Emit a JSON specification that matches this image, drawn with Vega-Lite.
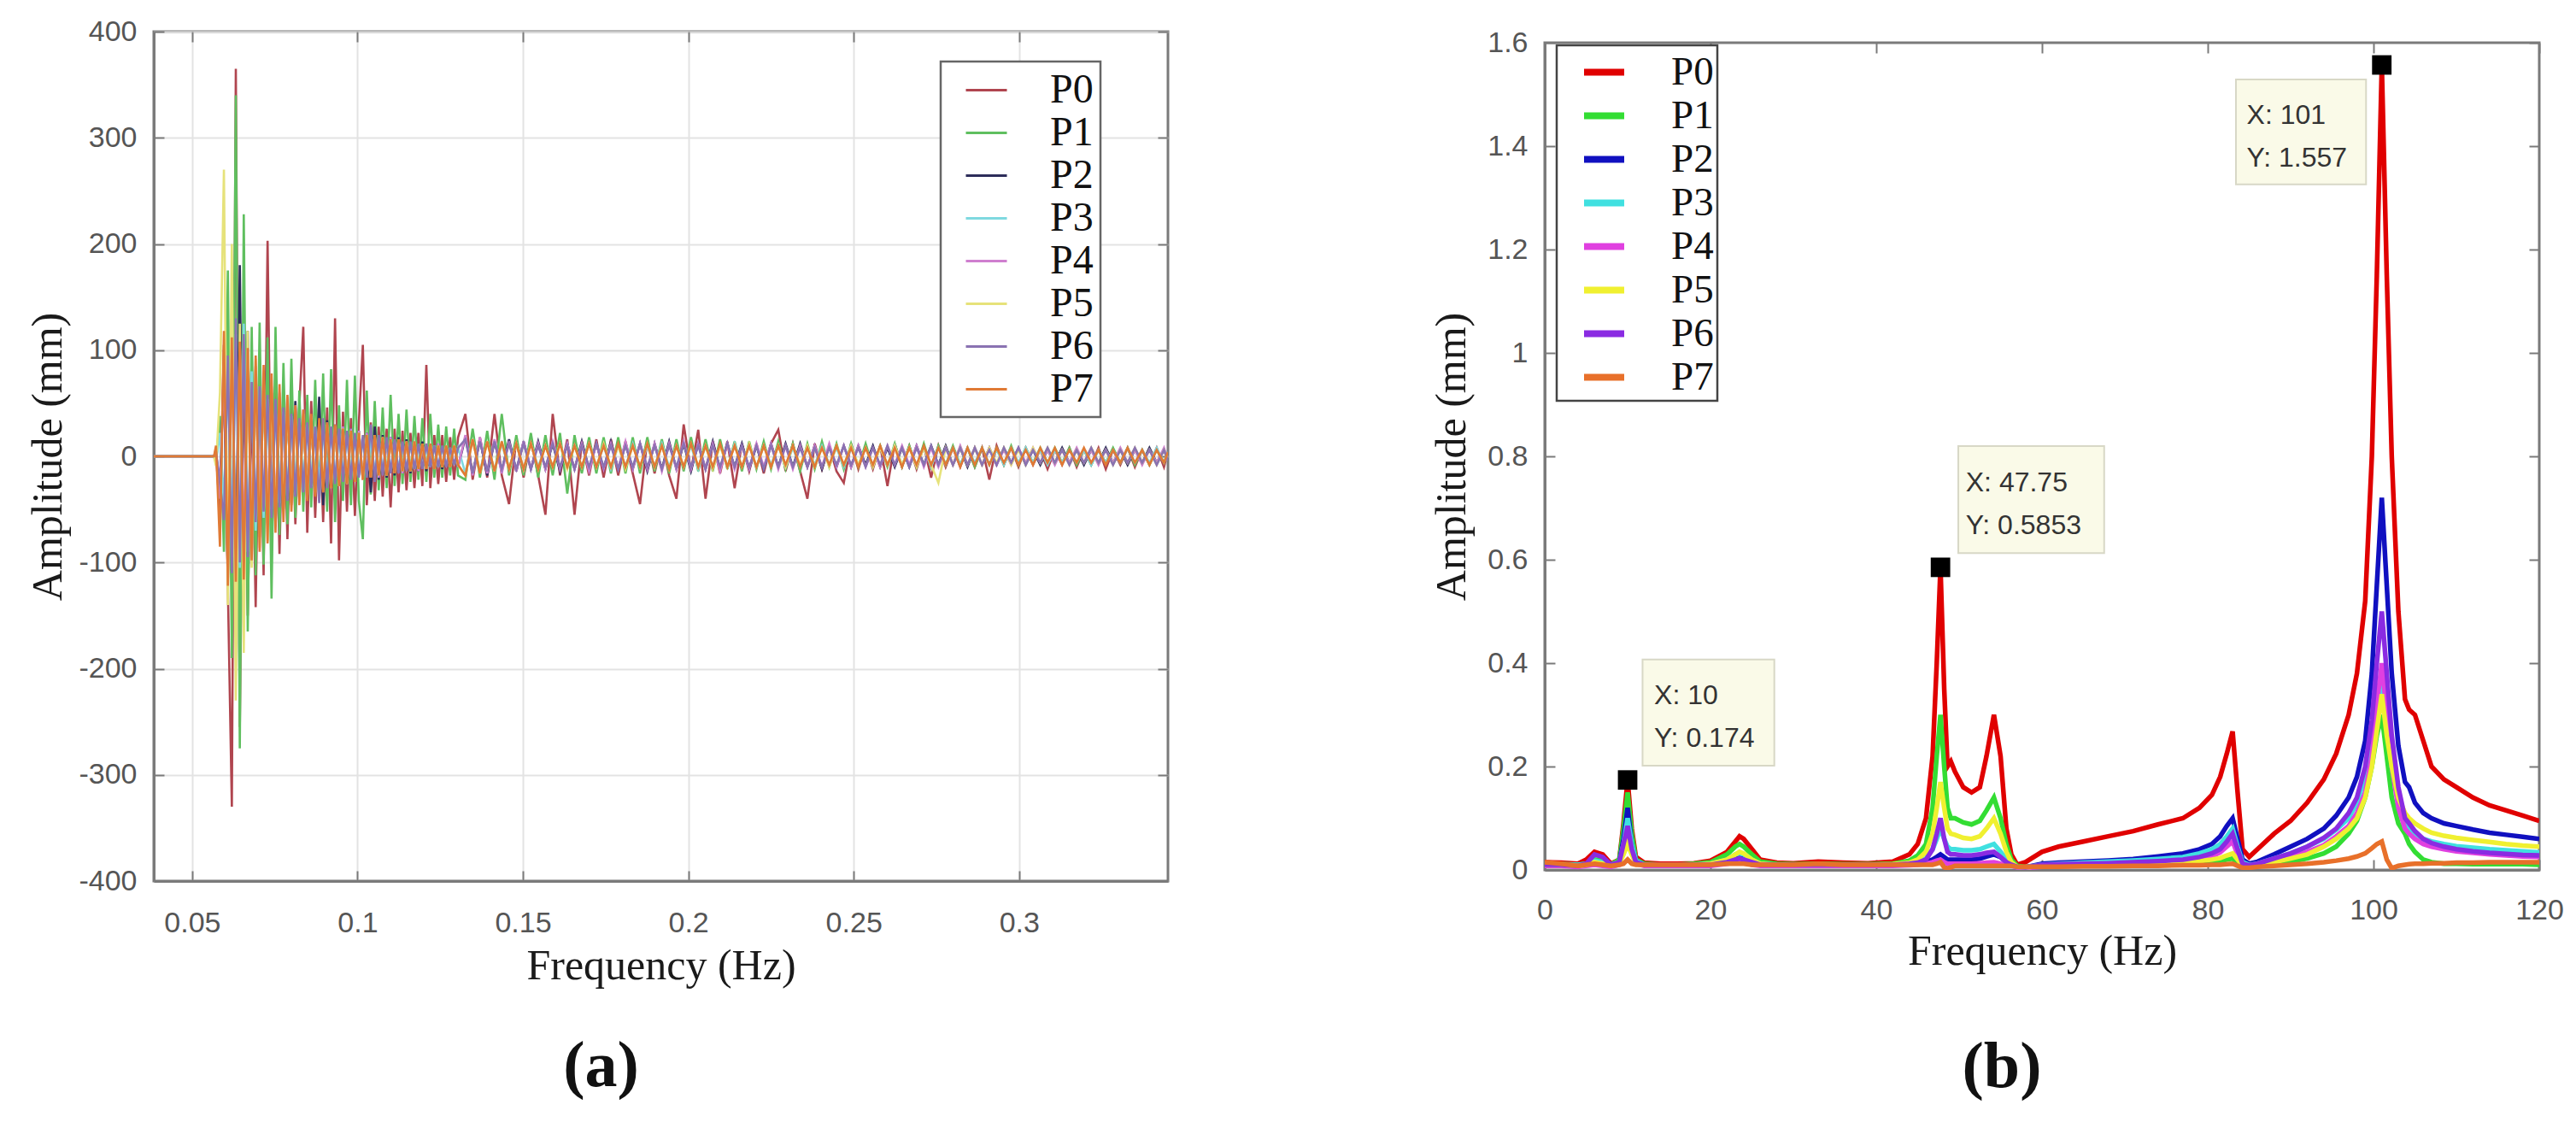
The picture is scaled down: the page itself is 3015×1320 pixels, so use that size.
{
  "$schema": "https://vega.github.io/schema/vega-lite/v6.json",
  "background": "white",
  "padding": {"left": 30, "top": 18, "right": 10, "bottom": 10},
  "config": {
    "view": {"stroke": "#7a7a7a", "strokeWidth": 3},
    "axis": {
      "labelFont": "Liberation Sans", "labelFontSize": 34, "labelColor": "#555555",
      "titleFont": "Liberation Serif", "titleFontSize": 50, "titleFontWeight": "normal", "titleColor": "#1a1a1a",
      "domainColor": "#7a7a7a", "domainWidth": 3, "tickColor": "#7a7a7a", "tickWidth": 2, "tickSize": -12,
      "gridColor": "#e3e3e3", "gridWidth": 2, "labelFlush": false, "labelOverlap": false
    },
    "legend": {"strokeWidth": 2.5},
    "title": {"font": "Liberation Serif", "fontSize": 76, "fontWeight": "bold", "color": "#111111", "anchor": "middle"}
  },
  "datasets": {
    "left": [
      {"t":0.0384,"P0":0,"P1":0,"P2":0,"P3":0,"P4":0,"P5":0,"P6":0,"P7":0},
      {"t":0.0566,"P0":0,"P1":0,"P2":0,"P3":0,"P4":0,"P5":0,"P6":0,"P7":0},
      {"t":0.0572,"P0":4,"P1":-6,"P2":3,"P3":-5,"P4":7,"P5":-9,"P6":5,"P7":10},
      {"t":0.0584,"P0":-55,"P1":38,"P2":-28,"P3":22,"P4":-40,"P5":60,"P6":-25,"P7":-85},
      {"t":0.0596,"P0":105,"P1":-90,"P2":75,"P3":-45,"P4":85,"P5":270,"P6":-60,"P7":118},
      {"t":0.0608,"P0":-125,"P1":175,"P2":-115,"P3":80,"P4":-100,"P5":-140,"P6":95,"P7":-122},
      {"t":0.0620,"P0":-330,"P1":-190,"P2":135,"P3":-95,"P4":125,"P5":200,"P6":-110,"P7":112},
      {"t":0.0632,"P0":365,"P1":340,"P2":-120,"P3":115,"P4":-140,"P5":-230,"P6":130,"P7":-118},
      {"t":0.0644,"P0":-255,"P1":-275,"P2":180,"P3":-105,"P4":105,"P5":125,"P6":-100,"P7":108},
      {"t":0.0656,"P0":95,"P1":228,"P2":-140,"P3":125,"P4":-90,"P5":-185,"P6":115,"P7":-116},
      {"t":0.0668,"P0":-150,"P1":-165,"P2":118,"P3":-90,"P4":100,"P5":118,"P6":-95,"P7":102},
      {"t":0.0680,"P0":62,"P1":122,"P2":-95,"P3":80,"P4":-75,"P5":-105,"P6":70,"P7":-98},
      {"t":0.0692,"P0":-142,"P1":-112,"P2":85,"P3":-70,"P4":82,"P5":92,"P6":-62,"P7":95},
      {"t":0.0704,"P0":84,"P1":126,"P2":-76,"P3":66,"P4":-64,"P5":-86,"P6":66,"P7":-90},
      {"t":0.0716,"P0":-112,"P1":-102,"P2":72,"P3":-58,"P4":74,"P5":78,"P6":-52,"P7":86},
      {"t":0.0728,"P0":203,"P1":112,"P2":-64,"P3":54,"P4":-60,"P5":-80,"P6":58,"P7":-82},
      {"t":0.0740,"P0":-84,"P1":-134,"P2":60,"P3":-50,"P4":66,"P5":64,"P6":-58,"P7":78},
      {"t":0.0752,"P0":72,"P1":122,"P2":-66,"P3":46,"P4":-54,"P5":-60,"P6":54,"P7":-72},
      {"t":0.0764,"P0":-92,"P1":-74,"P2":56,"P3":-44,"P4":60,"P5":58,"P6":-48,"P7":68},
      {"t":0.0776,"P0":64,"P1":88,"P2":-50,"P3":42,"P4":-50,"P5":-52,"P6":46,"P7":-62},
      {"t":0.0788,"P0":-78,"P1":-64,"P2":46,"P3":-40,"P4":56,"P5":48,"P6":-42,"P7":58},
      {"t":0.0800,"P0":58,"P1":92,"P2":-44,"P3":38,"P4":-46,"P5":-46,"P6":40,"P7":-52},
      {"t":0.0812,"P0":-64,"P1":-58,"P2":52,"P3":-36,"P4":48,"P5":44,"P6":-38,"P7":48},
      {"t":0.0824,"P0":48,"P1":62,"P2":-40,"P3":34,"P4":-42,"P5":-42,"P6":36,"P7":-46},
      {"t":0.0836,"P0":122,"P1":-52,"P2":38,"P3":-32,"P4":44,"P5":40,"P6":-34,"P7":44},
      {"t":0.0848,"P0":-72,"P1":58,"P2":-36,"P3":30,"P4":-40,"P5":-38,"P6":32,"P7":-42},
      {"t":0.0860,"P0":52,"P1":-48,"P2":34,"P3":-28,"P4":38,"P5":36,"P6":-30,"P7":40},
      {"t":0.0872,"P0":-58,"P1":72,"P2":-32,"P3":28,"P4":-36,"P5":-34,"P6":28,"P7":-38},
      {"t":0.0884,"P0":42,"P1":-42,"P2":56,"P3":-26,"P4":34,"P5":32,"P6":-44,"P7":36},
      {"t":0.0896,"P0":-62,"P1":78,"P2":-46,"P3":26,"P4":-34,"P5":-32,"P6":36,"P7":-34},
      {"t":0.0908,"P0":46,"P1":-52,"P2":34,"P3":-24,"P4":32,"P5":30,"P6":-30,"P7":32},
      {"t":0.0920,"P0":-82,"P1":82,"P2":-30,"P3":24,"P4":-30,"P5":-30,"P6":28,"P7":-30},
      {"t":0.0932,"P0":130,"P1":-62,"P2":30,"P3":-22,"P4":30,"P5":28,"P6":-26,"P7":30},
      {"t":0.0944,"P0":-98,"P1":48,"P2":-28,"P3":22,"P4":-28,"P5":-28,"P6":26,"P7":-28},
      {"t":0.0956,"P0":42,"P1":-42,"P2":28,"P3":-20,"P4":28,"P5":26,"P6":-24,"P7":26},
      {"t":0.0968,"P0":-52,"P1":72,"P2":-26,"P3":20,"P4":-26,"P5":-26,"P6":24,"P7":-26},
      {"t":0.0980,"P0":36,"P1":-46,"P2":26,"P3":-20,"P4":26,"P5":24,"P6":-22,"P7":24},
      {"t":0.0992,"P0":-56,"P1":76,"P2":-24,"P3":18,"P4":-24,"P5":-24,"P6":22,"P7":-24},
      {"t":0.1004,"P0":32,"P1":-42,"P2":24,"P3":-18,"P4":24,"P5":22,"P6":-20,"P7":22},
      {"t":0.1016,"P0":105,"P1":-78,"P2":-22,"P3":18,"P4":-22,"P5":-22,"P6":20,"P7":-22},
      {"t":0.1028,"P0":-46,"P1":62,"P2":22,"P3":-18,"P4":22,"P5":20,"P6":-20,"P7":20},
      {"t":0.1040,"P0":32,"P1":-36,"P2":-34,"P3":16,"P4":-20,"P5":-20,"P6":30,"P7":-20},
      {"t":0.1052,"P0":-42,"P1":52,"P2":28,"P3":-16,"P4":20,"P5":20,"P6":-24,"P7":20},
      {"t":0.1064,"P0":28,"P1":-32,"P2":-22,"P3":16,"P4":-20,"P5":-18,"P6":20,"P7":-18},
      {"t":0.1076,"P0":-38,"P1":46,"P2":20,"P3":-14,"P4":18,"P5":18,"P6":-18,"P7":18},
      {"t":0.1088,"P0":26,"P1":-30,"P2":-20,"P3":14,"P4":-18,"P5":-18,"P6":18,"P7":-18},
      {"t":0.1100,"P0":-48,"P1":58,"P2":18,"P3":-14,"P4":18,"P5":16,"P6":-16,"P7":16},
      {"t":0.1112,"P0":26,"P1":-28,"P2":-18,"P3":14,"P4":-16,"P5":-16,"P6":16,"P7":-16},
      {"t":0.1124,"P0":-34,"P1":40,"P2":18,"P3":-12,"P4":16,"P5":16,"P6":-16,"P7":16},
      {"t":0.1136,"P0":24,"P1":-26,"P2":-16,"P3":12,"P4":-16,"P5":-14,"P6":14,"P7":-14},
      {"t":0.1148,"P0":-32,"P1":44,"P2":16,"P3":-12,"P4":14,"P5":14,"P6":-14,"P7":14},
      {"t":0.1160,"P0":22,"P1":-24,"P2":-16,"P3":12,"P4":-14,"P5":-14,"P6":14,"P7":-14},
      {"t":0.1172,"P0":-30,"P1":38,"P2":14,"P3":-12,"P4":14,"P5":14,"P6":-12,"P7":14},
      {"t":0.1184,"P0":22,"P1":-22,"P2":-14,"P3":10,"P4":-14,"P5":-12,"P6":12,"P7":-12},
      {"t":0.1196,"P0":-28,"P1":36,"P2":14,"P3":-10,"P4":12,"P5":12,"P6":-12,"P7":12},
      {"t":0.1208,"P0":86,"P1":-24,"P2":-14,"P3":10,"P4":-12,"P5":-12,"P6":12,"P7":-12},
      {"t":0.1220,"P0":-30,"P1":40,"P2":12,"P3":-10,"P4":12,"P5":12,"P6":-10,"P7":12},
      {"t":0.1232,"P0":20,"P1":-20,"P2":-12,"P3":10,"P4":-12,"P5":-12,"P6":10,"P7":-12},
      {"t":0.1244,"P0":-26,"P1":30,"P2":12,"P3":-10,"P4":12,"P5":10,"P6":-10,"P7":10},
      {"t":0.1256,"P0":20,"P1":-20,"P2":-12,"P3":8,"P4":-10,"P5":-10,"P6":10,"P7":-10},
      {"t":0.1268,"P0":-24,"P1":28,"P2":10,"P3":-8,"P4":10,"P5":10,"P6":-10,"P7":10},
      {"t":0.1280,"P0":18,"P1":-18,"P2":-10,"P3":8,"P4":-10,"P5":-10,"P6":8,"P7":-10},
      {"t":0.1292,"P0":-22,"P1":26,"P2":10,"P3":-8,"P4":10,"P5":10,"P6":-8,"P7":10},
      {"t":0.1304,"P0":18,"P1":-18,"P2":-10,"P3":8,"P4":-10,"P5":-8,"P6":8,"P7":-8},
      {"t":0.1326,"P0":40,"P1":-22,"P2":18,"P3":-16,"P4":20,"P5":-18,"P6":16,"P7":-18},
      {"t":0.1348,"P0":-22,"P1":26,"P2":-16,"P3":16,"P4":-18,"P5":16,"P6":-16,"P7":16},
      {"t":0.1370,"P0":18,"P1":-20,"P2":16,"P3":-14,"P4":18,"P5":-16,"P6":14,"P7":-16},
      {"t":0.1392,"P0":-20,"P1":24,"P2":-18,"P3":14,"P4":-16,"P5":14,"P6":-14,"P7":14},
      {"t":0.1414,"P0":40,"P1":-22,"P2":14,"P3":-14,"P4":16,"P5":-14,"P6":14,"P7":-14},
      {"t":0.1436,"P0":-18,"P1":40,"P2":-14,"P3":12,"P4":-16,"P5":14,"P6":-12,"P7":14},
      {"t":0.1458,"P0":-45,"P1":-18,"P2":16,"P3":-12,"P4":14,"P5":-12,"P6":12,"P7":-12},
      {"t":0.1480,"P0":16,"P1":20,"P2":-14,"P3":12,"P4":-14,"P5":12,"P6":-12,"P7":12},
      {"t":0.1502,"P0":-20,"P1":-18,"P2":14,"P3":-12,"P4":14,"P5":-12,"P6":12,"P7":-12},
      {"t":0.1524,"P0":16,"P1":22,"P2":-12,"P3":12,"P4":-12,"P5":12,"P6":-12,"P7":12},
      {"t":0.1546,"P0":-18,"P1":-20,"P2":14,"P3":-10,"P4":12,"P5":-12,"P6":10,"P7":-12},
      {"t":0.1568,"P0":-55,"P1":20,"P2":-12,"P3":10,"P4":-12,"P5":10,"P6":-10,"P7":10},
      {"t":0.1590,"P0":40,"P1":-18,"P2":12,"P3":-10,"P4":14,"P5":-10,"P6":12,"P7":-10},
      {"t":0.1612,"P0":-18,"P1":22,"P2":-14,"P3":12,"P4":-12,"P5":12,"P6":-10,"P7":12},
      {"t":0.1634,"P0":16,"P1":-35,"P2":12,"P3":-10,"P4":12,"P5":-12,"P6":10,"P7":-10},
      {"t":0.1656,"P0":-55,"P1":20,"P2":-12,"P3":10,"P4":-12,"P5":10,"P6":-12,"P7":10},
      {"t":0.1678,"P0":14,"P1":-16,"P2":14,"P3":-10,"P4":12,"P5":-10,"P6":10,"P7":-10},
      {"t":0.1700,"P0":-18,"P1":18,"P2":-12,"P3":12,"P4":-14,"P5":12,"P6":-10,"P7":12},
      {"t":0.1722,"P0":16,"P1":-16,"P2":12,"P3":-10,"P4":12,"P5":-10,"P6":12,"P7":-10},
      {"t":0.1744,"P0":-20,"P1":18,"P2":-12,"P3":10,"P4":-12,"P5":12,"P6":-10,"P7":10},
      {"t":0.1766,"P0":16,"P1":-16,"P2":14,"P3":-12,"P4":12,"P5":-10,"P6":10,"P7":-10},
      {"t":0.1788,"P0":-18,"P1":18,"P2":-12,"P3":10,"P4":-12,"P5":10,"P6":-12,"P7":12},
      {"t":0.1810,"P0":14,"P1":-16,"P2":12,"P3":-10,"P4":14,"P5":-12,"P6":10,"P7":-10},
      {"t":0.1832,"P0":-16,"P1":18,"P2":-12,"P3":12,"P4":-12,"P5":10,"P6":-10,"P7":10},
      {"t":0.1854,"P0":-45,"P1":-16,"P2":12,"P3":-10,"P4":12,"P5":-10,"P6":12,"P7":-10},
      {"t":0.1876,"P0":16,"P1":18,"P2":-14,"P3":10,"P4":-12,"P5":12,"P6":-10,"P7":12},
      {"t":0.1898,"P0":-16,"P1":-14,"P2":12,"P3":-10,"P4":12,"P5":-10,"P6":10,"P7":-10},
      {"t":0.1920,"P0":14,"P1":16,"P2":-12,"P3":12,"P4":-14,"P5":10,"P6":-12,"P7":10},
      {"t":0.1942,"P0":-18,"P1":-16,"P2":14,"P3":-10,"P4":12,"P5":-12,"P6":10,"P7":-12},
      {"t":0.1964,"P0":-40,"P1":16,"P2":-12,"P3":10,"P4":-12,"P5":10,"P6":-10,"P7":10},
      {"t":0.1986,"P0":30,"P1":-14,"P2":12,"P3":-10,"P4":14,"P5":-10,"P6":12,"P7":-10},
      {"t":0.2008,"P0":-14,"P1":18,"P2":-14,"P3":10,"P4":-12,"P5":12,"P6":-10,"P7":12},
      {"t":0.2030,"P0":25,"P1":-14,"P2":12,"P3":-12,"P4":12,"P5":-10,"P6":10,"P7":-10},
      {"t":0.2052,"P0":-40,"P1":16,"P2":-12,"P3":10,"P4":-12,"P5":10,"P6":-12,"P7":10},
      {"t":0.2074,"P0":14,"P1":-14,"P2":14,"P3":-10,"P4":12,"P5":-12,"P6":10,"P7":-10},
      {"t":0.2096,"P0":-16,"P1":16,"P2":-12,"P3":10,"P4":-14,"P5":10,"P6":-10,"P7":12},
      {"t":0.2118,"P0":14,"P1":-12,"P2":12,"P3":-10,"P4":12,"P5":-10,"P6":12,"P7":-10},
      {"t":0.2140,"P0":-30,"P1":14,"P2":-10,"P3":12,"P4":-12,"P5":10,"P6":-10,"P7":10},
      {"t":0.2162,"P0":12,"P1":-14,"P2":12,"P3":-10,"P4":10,"P5":-10,"P6":10,"P7":-10},
      {"t":0.2184,"P0":-14,"P1":14,"P2":-12,"P3":10,"P4":-12,"P5":12,"P6":-10,"P7":10},
      {"t":0.2206,"P0":12,"P1":-12,"P2":10,"P3":-10,"P4":12,"P5":-10,"P6":10,"P7":-10},
      {"t":0.2228,"P0":-16,"P1":14,"P2":-12,"P3":10,"P4":-10,"P5":10,"P6":-12,"P7":10},
      {"t":0.2250,"P0":12,"P1":-12,"P2":12,"P3":-8,"P4":12,"P5":-10,"P6":10,"P7":-10},
      {"t":0.2272,"P0":25,"P1":14,"P2":-10,"P3":10,"P4":-12,"P5":10,"P6":-10,"P7":10},
      {"t":0.2294,"P0":-14,"P1":-12,"P2":12,"P3":-10,"P4":10,"P5":-10,"P6":10,"P7":-8},
      {"t":0.2316,"P0":12,"P1":12,"P2":-10,"P3":8,"P4":-12,"P5":10,"P6":-10,"P7":10},
      {"t":0.2338,"P0":-14,"P1":-14,"P2":12,"P3":-10,"P4":10,"P5":-8,"P6":8,"P7":-10},
      {"t":0.2360,"P0":-40,"P1":12,"P2":-10,"P3":8,"P4":-10,"P5":10,"P6":-10,"P7":8},
      {"t":0.2382,"P0":12,"P1":-12,"P2":10,"P3":-8,"P4":10,"P5":-10,"P6":8,"P7":-10},
      {"t":0.2404,"P0":-12,"P1":14,"P2":-12,"P3":10,"P4":-10,"P5":8,"P6":-10,"P7":8},
      {"t":0.2426,"P0":10,"P1":-10,"P2":10,"P3":-8,"P4":12,"P5":-10,"P6":8,"P7":-8},
      {"t":0.2448,"P0":-14,"P1":12,"P2":-10,"P3":8,"P4":-10,"P5":10,"P6":-8,"P7":10},
      {"t":0.2470,"P0":-25,"P1":-12,"P2":10,"P3":-10,"P4":10,"P5":-8,"P6":10,"P7":-8},
      {"t":0.2492,"P0":12,"P1":12,"P2":-10,"P3":8,"P4":-10,"P5":10,"P6":-8,"P7":8},
      {"t":0.2514,"P0":-12,"P1":-10,"P2":10,"P3":-8,"P4":10,"P5":-8,"P6":8,"P7":-10},
      {"t":0.2536,"P0":10,"P1":12,"P2":-8,"P3":8,"P4":-10,"P5":8,"P6":-10,"P7":8},
      {"t":0.2558,"P0":-12,"P1":-10,"P2":10,"P3":-8,"P4":8,"P5":-10,"P6":8,"P7":-8},
      {"t":0.2580,"P0":10,"P1":10,"P2":-10,"P3":8,"P4":-10,"P5":8,"P6":-8,"P7":10},
      {"t":0.2602,"P0":-28,"P1":-10,"P2":8,"P3":-8,"P4":10,"P5":-8,"P6":10,"P7":-8},
      {"t":0.2624,"P0":12,"P1":12,"P2":-10,"P3":10,"P4":-8,"P5":10,"P6":-8,"P7":8},
      {"t":0.2646,"P0":-10,"P1":-10,"P2":8,"P3":-8,"P4":10,"P5":-8,"P6":8,"P7":-10},
      {"t":0.2668,"P0":10,"P1":10,"P2":-10,"P3":8,"P4":-8,"P5":8,"P6":-10,"P7":8},
      {"t":0.2690,"P0":-12,"P1":-10,"P2":10,"P3":-8,"P4":10,"P5":-10,"P6":8,"P7":-8},
      {"t":0.2712,"P0":10,"P1":12,"P2":-8,"P3":8,"P4":-10,"P5":8,"P6":-8,"P7":10},
      {"t":0.2734,"P0":-20,"P1":-10,"P2":10,"P3":-10,"P4":8,"P5":-8,"P6":10,"P7":-8},
      {"t":0.2756,"P0":10,"P1":10,"P2":-8,"P3":8,"P4":-10,"P5":-25,"P6":-8,"P7":8},
      {"t":0.2778,"P0":-10,"P1":-8,"P2":10,"P3":-8,"P4":8,"P5":8,"P6":8,"P7":-8},
      {"t":0.2800,"P0":8,"P1":10,"P2":-8,"P3":8,"P4":-8,"P5":-8,"P6":-8,"P7":8},
      {"t":0.2822,"P0":-10,"P1":-8,"P2":8,"P3":-8,"P4":10,"P5":8,"P6":8,"P7":-10},
      {"t":0.2844,"P0":8,"P1":8,"P2":-10,"P3":8,"P4":-8,"P5":-8,"P6":-8,"P7":8},
      {"t":0.2866,"P0":-10,"P1":-10,"P2":8,"P3":-6,"P4":8,"P5":8,"P6":8,"P7":-8},
      {"t":0.2888,"P0":8,"P1":8,"P2":-8,"P3":8,"P4":-8,"P5":-8,"P6":-8,"P7":8},
      {"t":0.2910,"P0":-22,"P1":-8,"P2":8,"P3":-8,"P4":8,"P5":8,"P6":6,"P7":-8},
      {"t":0.2932,"P0":10,"P1":8,"P2":-8,"P3":6,"P4":-8,"P5":-6,"P6":-8,"P7":8},
      {"t":0.2954,"P0":-8,"P1":-8,"P2":8,"P3":-8,"P4":6,"P5":8,"P6":8,"P7":-6},
      {"t":0.2976,"P0":8,"P1":10,"P2":-6,"P3":8,"P4":-8,"P5":-8,"P6":-6,"P7":8},
      {"t":0.2998,"P0":-10,"P1":-8,"P2":8,"P3":-6,"P4":8,"P5":6,"P6":8,"P7":-8},
      {"t":0.3020,"P0":8,"P1":8,"P2":-8,"P3":8,"P4":-6,"P5":-8,"P6":-8,"P7":6},
      {"t":0.3042,"P0":-8,"P1":-6,"P2":6,"P3":-6,"P4":8,"P5":8,"P6":6,"P7":-8},
      {"t":0.3064,"P0":6,"P1":8,"P2":-8,"P3":6,"P4":-6,"P5":-6,"P6":-6,"P7":8},
      {"t":0.3086,"P0":-12,"P1":-6,"P2":6,"P3":-8,"P4":6,"P5":8,"P6":8,"P7":-6},
      {"t":0.3108,"P0":6,"P1":8,"P2":-6,"P3":6,"P4":-8,"P5":-6,"P6":-6,"P7":8},
      {"t":0.3130,"P0":-8,"P1":-6,"P2":8,"P3":-6,"P4":6,"P5":6,"P6":6,"P7":-8},
      {"t":0.3152,"P0":8,"P1":8,"P2":-6,"P3":6,"P4":-6,"P5":-8,"P6":-8,"P7":6},
      {"t":0.3174,"P0":-10,"P1":-8,"P2":6,"P3":-6,"P4":8,"P5":6,"P6":6,"P7":-6},
      {"t":0.3196,"P0":6,"P1":6,"P2":-8,"P3":6,"P4":-6,"P5":-6,"P6":-6,"P7":8},
      {"t":0.3218,"P0":-8,"P1":-8,"P2":6,"P3":-8,"P4":6,"P5":8,"P6":8,"P7":-6},
      {"t":0.3240,"P0":8,"P1":6,"P2":-6,"P3":6,"P4":-8,"P5":-6,"P6":-6,"P7":6},
      {"t":0.3262,"P0":-12,"P1":-6,"P2":8,"P3":-6,"P4":6,"P5":6,"P6":6,"P7":-8},
      {"t":0.3284,"P0":6,"P1":8,"P2":-6,"P3":6,"P4":-6,"P5":-8,"P6":-8,"P7":6},
      {"t":0.3306,"P0":-8,"P1":-6,"P2":6,"P3":-6,"P4":8,"P5":6,"P6":6,"P7":-6},
      {"t":0.3328,"P0":8,"P1":8,"P2":-8,"P3":8,"P4":-6,"P5":-6,"P6":-6,"P7":8},
      {"t":0.3350,"P0":-10,"P1":-8,"P2":6,"P3":-6,"P4":6,"P5":8,"P6":8,"P7":-6},
      {"t":0.3372,"P0":6,"P1":6,"P2":-6,"P3":6,"P4":-8,"P5":-6,"P6":-6,"P7":6},
      {"t":0.3394,"P0":-8,"P1":-8,"P2":8,"P3":-6,"P4":6,"P5":6,"P6":6,"P7":-8},
      {"t":0.3416,"P0":8,"P1":6,"P2":-6,"P3":8,"P4":-6,"P5":-8,"P6":-8,"P7":6},
      {"t":0.3438,"P0":-10,"P1":-6,"P2":6,"P3":-6,"P4":8,"P5":6,"P6":6,"P7":-6},
      {"t":0.3450,"P0":4,"P1":4,"P2":-4,"P3":4,"P4":-4,"P5":-4,"P6":-4,"P7":4}
    ],
    "right": [
      {"f":0,"P0":0.015,"P1":0.012,"P2":0.01,"P3":0.012,"P4":0.008,"P5":0.01,"P6":0.01,"P7":0.015},
      {"f":2,"P0":0.014,"P1":0.011,"P2":0.01,"P3":0.011,"P4":0.008,"P5":0.01,"P6":0.01,"P7":0.012},
      {"f":4,"P0":0.012,"P1":0.01,"P2":0.008,"P3":0.01,"P4":0.006,"P5":0.008,"P6":0.008,"P7":0.008},
      {"f":5,"P0":0.02,"P1":0.012,"P2":0.01,"P3":0.012,"P4":0.008,"P5":0.01,"P6":0.012,"P7":0.01},
      {"f":6,"P0":0.035,"P1":0.02,"P2":0.015,"P3":0.018,"P4":0.01,"P5":0.015,"P6":0.03,"P7":0.012},
      {"f":7,"P0":0.03,"P1":0.018,"P2":0.012,"P3":0.015,"P4":0.008,"P5":0.012,"P6":0.025,"P7":0.01},
      {"f":8,"P0":0.012,"P1":0.01,"P2":0.008,"P3":0.01,"P4":0.006,"P5":0.008,"P6":0.01,"P7":0.008},
      {"f":9,"P0":0.02,"P1":0.02,"P2":0.015,"P3":0.015,"P4":0.01,"P5":0.012,"P6":0.015,"P7":0.01},
      {"f":9.5,"P0":0.09,"P1":0.08,"P2":0.06,"P3":0.05,"P4":0.04,"P5":0.03,"P6":0.05,"P7":0.012},
      {"f":10,"P0":0.174,"P1":0.15,"P2":0.12,"P3":0.1,"P4":0.07,"P5":0.05,"P6":0.085,"P7":0.02},
      {"f":10.5,"P0":0.08,"P1":0.07,"P2":0.05,"P3":0.05,"P4":0.035,"P5":0.03,"P6":0.04,"P7":0.012},
      {"f":11,"P0":0.025,"P1":0.02,"P2":0.018,"P3":0.018,"P4":0.012,"P5":0.012,"P6":0.015,"P7":0.01},
      {"f":12,"P0":0.014,"P1":0.012,"P2":0.01,"P3":0.01,"P4":0.008,"P5":0.01,"P6":0.01,"P7":0.01},
      {"f":14,"P0":0.012,"P1":0.01,"P2":0.01,"P3":0.01,"P4":0.008,"P5":0.01,"P6":0.01,"P7":0.01},
      {"f":16,"P0":0.012,"P1":0.01,"P2":0.01,"P3":0.01,"P4":0.008,"P5":0.01,"P6":0.01,"P7":0.01},
      {"f":18,"P0":0.013,"P1":0.012,"P2":0.01,"P3":0.01,"P4":0.008,"P5":0.01,"P6":0.01,"P7":0.01},
      {"f":20,"P0":0.018,"P1":0.015,"P2":0.012,"P3":0.012,"P4":0.008,"P5":0.012,"P6":0.01,"P7":0.01},
      {"f":22,"P0":0.035,"P1":0.03,"P2":0.02,"P3":0.02,"P4":0.012,"P5":0.02,"P6":0.015,"P7":0.012},
      {"f":23,"P0":0.055,"P1":0.045,"P2":0.025,"P3":0.03,"P4":0.015,"P5":0.03,"P6":0.02,"P7":0.012},
      {"f":23.5,"P0":0.065,"P1":0.05,"P2":0.03,"P3":0.032,"P4":0.015,"P5":0.035,"P6":0.022,"P7":0.012},
      {"f":24,"P0":0.06,"P1":0.045,"P2":0.028,"P3":0.03,"P4":0.015,"P5":0.032,"P6":0.02,"P7":0.012},
      {"f":25,"P0":0.04,"P1":0.03,"P2":0.018,"P3":0.02,"P4":0.01,"P5":0.02,"P6":0.015,"P7":0.01},
      {"f":26,"P0":0.02,"P1":0.016,"P2":0.012,"P3":0.012,"P4":0.008,"P5":0.012,"P6":0.01,"P7":0.01},
      {"f":28,"P0":0.014,"P1":0.012,"P2":0.01,"P3":0.01,"P4":0.008,"P5":0.01,"P6":0.01,"P7":0.01},
      {"f":30,"P0":0.013,"P1":0.011,"P2":0.01,"P3":0.01,"P4":0.008,"P5":0.01,"P6":0.01,"P7":0.01},
      {"f":33,"P0":0.016,"P1":0.012,"P2":0.01,"P3":0.01,"P4":0.008,"P5":0.01,"P6":0.01,"P7":0.012},
      {"f":36,"P0":0.014,"P1":0.011,"P2":0.01,"P3":0.01,"P4":0.008,"P5":0.01,"P6":0.01,"P7":0.01},
      {"f":39,"P0":0.013,"P1":0.011,"P2":0.01,"P3":0.01,"P4":0.008,"P5":0.01,"P6":0.01,"P7":0.01},
      {"f":42,"P0":0.016,"P1":0.012,"P2":0.01,"P3":0.01,"P4":0.008,"P5":0.011,"P6":0.01,"P7":0.01},
      {"f":44,"P0":0.03,"P1":0.018,"P2":0.012,"P3":0.013,"P4":0.009,"P5":0.014,"P6":0.012,"P7":0.01},
      {"f":45,"P0":0.05,"P1":0.028,"P2":0.014,"P3":0.016,"P4":0.01,"P5":0.02,"P6":0.014,"P7":0.01},
      {"f":46,"P0":0.1,"P1":0.05,"P2":0.016,"P3":0.022,"P4":0.012,"P5":0.035,"P6":0.02,"P7":0.01},
      {"f":46.8,"P0":0.22,"P1":0.12,"P2":0.02,"P3":0.04,"P4":0.015,"P5":0.07,"P6":0.04,"P7":0.01},
      {"f":47.3,"P0":0.4,"P1":0.22,"P2":0.025,"P3":0.06,"P4":0.018,"P5":0.12,"P6":0.07,"P7":0.012},
      {"f":47.75,"P0":0.5853,"P1":0.3,"P2":0.03,"P3":0.08,"P4":0.02,"P5":0.17,"P6":0.1,"P7":0.015},
      {"f":48.2,"P0":0.35,"P1":0.2,"P2":0.025,"P3":0.06,"P4":0.015,"P5":0.12,"P6":0.06,"P7":0.005},
      {"f":48.6,"P0":0.2,"P1":0.12,"P2":0.02,"P3":0.045,"P4":0.012,"P5":0.08,"P6":0.035,"P7":0.003},
      {"f":49,"P0":0.21,"P1":0.1,"P2":0.02,"P3":0.04,"P4":0.012,"P5":0.07,"P6":0.03,"P7":0.005},
      {"f":49.5,"P0":0.19,"P1":0.1,"P2":0.02,"P3":0.04,"P4":0.012,"P5":0.068,"P6":0.03,"P7":0.008},
      {"f":50.5,"P0":0.16,"P1":0.092,"P2":0.02,"P3":0.038,"P4":0.012,"P5":0.062,"P6":0.028,"P7":0.008},
      {"f":51.5,"P0":0.15,"P1":0.088,"P2":0.02,"P3":0.038,"P4":0.012,"P5":0.06,"P6":0.028,"P7":0.008},
      {"f":52.5,"P0":0.16,"P1":0.095,"P2":0.022,"P3":0.04,"P4":0.013,"P5":0.065,"P6":0.03,"P7":0.008},
      {"f":53.3,"P0":0.22,"P1":0.115,"P2":0.026,"P3":0.045,"P4":0.014,"P5":0.08,"P6":0.033,"P7":0.008},
      {"f":54.2,"P0":0.3,"P1":0.14,"P2":0.03,"P3":0.05,"P4":0.015,"P5":0.1,"P6":0.035,"P7":0.008},
      {"f":55,"P0":0.22,"P1":0.1,"P2":0.025,"P3":0.035,"P4":0.012,"P5":0.07,"P6":0.025,"P7":0.008},
      {"f":55.7,"P0":0.08,"P1":0.05,"P2":0.015,"P3":0.02,"P4":0.01,"P5":0.035,"P6":0.015,"P7":0.008},
      {"f":56.3,"P0":0.03,"P1":0.02,"P2":0.01,"P3":0.012,"P4":0.008,"P5":0.015,"P6":0.01,"P7":0.008},
      {"f":57,"P0":0.01,"P1":0.008,"P2":0.006,"P3":0.006,"P4":0.005,"P5":0.006,"P6":0.006,"P7":0.006},
      {"f":58,"P0":0.015,"P1":0.006,"P2":0.005,"P3":0.005,"P4":0.004,"P5":0.005,"P6":0.005,"P7":0.006},
      {"f":60,"P0":0.035,"P1":0.008,"P2":0.012,"P3":0.01,"P4":0.006,"P5":0.008,"P6":0.01,"P7":0.006},
      {"f":62,"P0":0.045,"P1":0.008,"P2":0.014,"P3":0.012,"P4":0.007,"P5":0.009,"P6":0.011,"P7":0.006},
      {"f":65,"P0":0.055,"P1":0.009,"P2":0.016,"P3":0.014,"P4":0.008,"P5":0.01,"P6":0.012,"P7":0.007},
      {"f":68,"P0":0.065,"P1":0.01,"P2":0.018,"P3":0.016,"P4":0.009,"P5":0.011,"P6":0.013,"P7":0.007},
      {"f":71,"P0":0.075,"P1":0.01,"P2":0.021,"P3":0.018,"P4":0.01,"P5":0.012,"P6":0.015,"P7":0.008},
      {"f":74,"P0":0.088,"P1":0.011,"P2":0.026,"P3":0.021,"P4":0.012,"P5":0.013,"P6":0.017,"P7":0.008},
      {"f":77,"P0":0.1,"P1":0.012,"P2":0.032,"P3":0.025,"P4":0.015,"P5":0.015,"P6":0.02,"P7":0.009},
      {"f":79,"P0":0.12,"P1":0.013,"P2":0.04,"P3":0.032,"P4":0.02,"P5":0.017,"P6":0.025,"P7":0.009},
      {"f":80.5,"P0":0.145,"P1":0.015,"P2":0.05,"P3":0.04,"P4":0.026,"P5":0.02,"P6":0.032,"P7":0.01},
      {"f":81.5,"P0":0.18,"P1":0.017,"P2":0.065,"P3":0.05,"P4":0.034,"P5":0.023,"P6":0.04,"P7":0.01},
      {"f":82.3,"P0":0.225,"P1":0.02,"P2":0.085,"P3":0.065,"P4":0.045,"P5":0.028,"P6":0.055,"P7":0.011},
      {"f":83,"P0":0.268,"P1":0.022,"P2":0.1,"P3":0.08,"P4":0.055,"P5":0.032,"P6":0.07,"P7":0.012},
      {"f":83.6,"P0":0.15,"P1":0.015,"P2":0.06,"P3":0.045,"P4":0.03,"P5":0.02,"P6":0.04,"P7":0.008},
      {"f":84.2,"P0":0.04,"P1":0.008,"P2":0.02,"P3":0.015,"P4":0.01,"P5":0.008,"P6":0.012,"P7":0.004},
      {"f":85,"P0":0.025,"P1":0.006,"P2":0.012,"P3":0.01,"P4":0.008,"P5":0.006,"P6":0.009,"P7":0.004},
      {"f":86,"P0":0.04,"P1":0.008,"P2":0.016,"P3":0.012,"P4":0.01,"P5":0.008,"P6":0.012,"P7":0.006},
      {"f":88,"P0":0.07,"P1":0.012,"P2":0.03,"P3":0.022,"P4":0.018,"P5":0.015,"P6":0.022,"P7":0.008},
      {"f":90,"P0":0.095,"P1":0.016,"P2":0.045,"P3":0.032,"P4":0.025,"P5":0.022,"P6":0.032,"P7":0.01},
      {"f":92,"P0":0.13,"P1":0.022,"P2":0.06,"P3":0.045,"P4":0.035,"P5":0.03,"P6":0.045,"P7":0.012},
      {"f":94,"P0":0.175,"P1":0.032,"P2":0.08,"P3":0.06,"P4":0.048,"P5":0.045,"P6":0.062,"P7":0.015},
      {"f":95.5,"P0":0.225,"P1":0.045,"P2":0.105,"P3":0.078,"P4":0.065,"P5":0.06,"P6":0.08,"P7":0.018},
      {"f":97,"P0":0.3,"P1":0.07,"P2":0.14,"P3":0.1,"P4":0.085,"P5":0.08,"P6":0.11,"P7":0.022},
      {"f":98,"P0":0.38,"P1":0.095,"P2":0.18,"P3":0.13,"P4":0.11,"P5":0.1,"P6":0.14,"P7":0.026},
      {"f":99,"P0":0.52,"P1":0.14,"P2":0.25,"P3":0.18,"P4":0.15,"P5":0.14,"P6":0.2,"P7":0.032},
      {"f":99.8,"P0":0.8,"P1":0.2,"P2":0.38,"P3":0.25,"P4":0.22,"P5":0.2,"P6":0.29,"P7":0.042},
      {"f":100.4,"P0":1.15,"P1":0.26,"P2":0.55,"P3":0.32,"P4":0.32,"P5":0.27,"P6":0.4,"P7":0.05},
      {"f":101,"P0":1.557,"P1":0.3,"P2":0.72,"P3":0.37,"P4":0.4,"P5":0.34,"P6":0.5,"P7":0.055},
      {"f":101.6,"P0":1.15,"P1":0.22,"P2":0.55,"P3":0.3,"P4":0.3,"P5":0.26,"P6":0.38,"P7":0.02},
      {"f":102.2,"P0":0.8,"P1":0.14,"P2":0.38,"P3":0.2,"P4":0.2,"P5":0.2,"P6":0.26,"P7":0.003},
      {"f":103,"P0":0.5,"P1":0.09,"P2":0.24,"P3":0.13,"P4":0.12,"P5":0.14,"P6":0.16,"P7":0.008},
      {"f":103.8,"P0":0.33,"P1":0.07,"P2":0.17,"P3":0.09,"P4":0.08,"P5":0.11,"P6":0.1,"P7":0.01},
      {"f":104.3,"P0":0.31,"P1":0.05,"P2":0.16,"P3":0.08,"P4":0.07,"P5":0.1,"P6":0.09,"P7":0.011},
      {"f":105,"P0":0.3,"P1":0.035,"P2":0.13,"P3":0.07,"P4":0.06,"P5":0.09,"P6":0.075,"P7":0.012},
      {"f":106,"P0":0.25,"P1":0.02,"P2":0.11,"P3":0.06,"P4":0.05,"P5":0.08,"P6":0.06,"P7":0.012},
      {"f":107,"P0":0.2,"P1":0.015,"P2":0.1,"P3":0.055,"P4":0.045,"P5":0.072,"P6":0.052,"P7":0.013},
      {"f":108.5,"P0":0.175,"P1":0.012,"P2":0.09,"P3":0.05,"P4":0.04,"P5":0.066,"P6":0.045,"P7":0.013},
      {"f":110,"P0":0.16,"P1":0.012,"P2":0.085,"P3":0.046,"P4":0.036,"P5":0.062,"P6":0.04,"P7":0.014},
      {"f":112,"P0":0.14,"P1":0.011,"P2":0.078,"P3":0.043,"P4":0.033,"P5":0.058,"P6":0.036,"P7":0.014},
      {"f":114,"P0":0.125,"P1":0.011,"P2":0.072,"P3":0.04,"P4":0.03,"P5":0.054,"P6":0.033,"P7":0.015},
      {"f":116,"P0":0.115,"P1":0.011,"P2":0.068,"P3":0.038,"P4":0.028,"P5":0.05,"P6":0.031,"P7":0.015},
      {"f":118,"P0":0.105,"P1":0.011,"P2":0.064,"P3":0.036,"P4":0.026,"P5":0.047,"P6":0.029,"P7":0.015},
      {"f":120,"P0":0.095,"P1":0.01,"P2":0.06,"P3":0.034,"P4":0.025,"P5":0.045,"P6":0.028,"P7":0.015}
    ],
    "tips": [
      {"fx":10,"fy":0.174,"bx":11.8,"bx2":27.7,"by":0.2016,"by2":0.407,"tx":13.2,"ty":0.3207,"label":"X: 10\nY: 0.174"},
      {"fx":47.75,"fy":0.5853,"bx":49.9,"bx2":67.5,"by":0.613,"by2":0.82,"tx":50.8,"ty":0.732,"label":"X: 47.75\nY: 0.5853"},
      {"fx":101,"fy":1.557,"bx":83.4,"bx2":99.1,"by":1.326,"by2":1.529,"tx":84.7,"ty":1.443,"label":"X: 101\nY: 1.557"}
    ]
  },
  "spacing": 303,
  "resolve": {"scale": {"color": "independent", "x": "independent", "y": "independent"}, "legend": {"color": "independent"}},
  "hconcat": [
    {
      "width": 1187,
      "height": 994,
      "title": {"text": "(a)", "orient": "bottom", "offset": 56, "dx": -70},
      "data": {"name": "left"},
      "transform": [{"fold": ["P0","P1","P2","P3","P4","P5","P6","P7"], "as": ["series","amp"]}],
      "resolve": {"axis": {"x": "independent", "y": "independent"}},
      "layer": [
        {
          "mark": {"type": "line", "strokeWidth": 2.6, "clip": true},
          "encoding": {
            "x": {"field": "t", "type": "quantitative", "title": "Frequency (Hz)",
                  "scale": {"domain": [0.0384, 0.345], "nice": false, "zero": false},
                  "axis": {"values": [0.05,0.1,0.15,0.2,0.25,0.3], "grid": true, "labelExpr": "'' + datum.value", "labelPadding": 44, "titlePadding": 8}},
            "y": {"field": "amp", "type": "quantitative", "title": "Amplitude (mm)",
                  "scale": {"domain": [-400, 400], "nice": false},
                  "axis": {"values": [-400,-300,-200,-100,0,100,200,300,400], "grid": true, "labelExpr": "'' + datum.value", "labelPadding": 32, "titlePadding": 10}},
            "color": {"field": "series", "type": "nominal",
                      "scale": {"domain": ["P0","P1","P2","P3","P4","P5","P6","P7"],
                                "range": ["#b0454f","#5fbf5f","#2d2d5a","#7fd9e0","#cf7fcf","#e6e27a","#8a72b2","#e07a35"]},
                      "legend": {"orient": "none", "legendX": 921, "legendY": 35, "direction": "vertical", "title": null,
                                 "fillColor": "white", "strokeColor": "#666666", "padding": 8,
                                 "labelFont": "Liberation Serif", "labelFontSize": 48, "labelColor": "#111111",
                                 "symbolType": "stroke", "symbolSize": 2304, "symbolStrokeWidth": 3,
                                 "symbolOffset": 20, "labelOffset": 49, "rowPadding": -7}}
          }
        },
        {
          "transform": [{"filter": "datum.t < 0.04 && datum.series == 'P0'"}],
          "mark": {"type": "point", "opacity": 0},
          "encoding": {
            "x": {"field": "t", "type": "quantitative",
                  "axis": {"orient": "top", "values": [0.05,0.1,0.15,0.2,0.25,0.3], "labels": false, "title": null, "domain": false, "grid": false}},
            "y": {"field": "amp", "type": "quantitative",
                  "axis": {"orient": "right", "values": [-400,-300,-200,-100,0,100,200,300,400], "labels": false, "title": null, "domain": false, "grid": false}}
          }
        }
      ]
    },
    {
      "spacing": -7,
      "vconcat": [
        {
          "width": 1164,
          "height": 1,
          "view": {"stroke": null},
          "data": {"values": []},
          "mark": {"type": "rule", "opacity": 0},
          "encoding": {}
        },
        {
          "width": 1164,
          "height": 968,
          "title": {"text": "(b)", "orient": "bottom", "offset": 74, "dx": -47},
          "resolve": {"axis": {"x": "independent", "y": "independent"}},
          "layer": [
            {
              "data": {"name": "right"},
              "transform": [{"fold": ["P0","P1","P2","P3","P4","P5","P6","P7"], "as": ["series","amp"]}],
              "mark": {"type": "line", "strokeWidth": 5.5, "clip": true},
              "encoding": {
                "x": {"field": "f", "type": "quantitative", "title": "Frequency (Hz)",
                      "scale": {"domain": [0, 120], "nice": false},
                      "axis": {"values": [0,20,40,60,80,100,120], "grid": false, "labelExpr": "'' + datum.value", "labelPadding": 42, "titlePadding": 6}},
                "y": {"field": "amp", "type": "quantitative", "title": "Amplitude (mm)",
                      "scale": {"domain": [0, 1.6], "nice": false},
                      "axis": {"values": [0,0.2,0.4,0.6,0.8,1,1.2,1.4,1.6], "grid": false, "labelExpr": "'' + datum.value", "labelPadding": 32, "titlePadding": 16}},
                "color": {"field": "series", "type": "nominal",
                          "scale": {"domain": ["P0","P1","P2","P3","P4","P5","P6","P7"],
                                    "range": ["#e00000","#33dd33","#1010c0","#40e0e0","#e040e0","#f0f030","#8a2be2","#e8702a"]},
                          "legend": {"orient": "none", "legendX": 14, "legendY": 16, "direction": "vertical", "title": null,
                                     "fillColor": "white", "strokeColor": "#444444", "padding": 4,
                                     "labelFont": "Liberation Serif", "labelFontSize": 47, "labelColor": "#111111",
                                     "symbolType": "stroke", "symbolSize": 2209, "symbolStrokeWidth": 8,
                                     "symbolOffset": 24, "labelOffset": 51, "rowPadding": -8}}
              }
            },
            {
              "data": {"name": "tips"},
              "mark": {"type": "rect", "fill": "#fafae8", "stroke": "#d8d8c6", "strokeWidth": 2},
              "encoding": {
                "x": {"field": "bx", "type": "quantitative", "axis": null},
                "x2": {"field": "bx2"},
                "y": {"field": "by", "type": "quantitative", "axis": null},
                "y2": {"field": "by2"}
              }
            },
            {
              "data": {"name": "tips"},
              "mark": {"type": "text", "align": "left", "baseline": "alphabetic", "lineBreak": "\n", "lineHeight": 50,
                       "font": "Liberation Sans", "fontSize": 32, "color": "#333333"},
              "encoding": {
                "x": {"field": "tx", "type": "quantitative", "axis": null},
                "y": {"field": "ty", "type": "quantitative", "axis": null},
                "text": {"field": "label"}
              }
            },
            {
              "data": {"name": "tips"},
              "mark": {"type": "square", "filled": true, "color": "#000000", "size": 520, "opacity": 1},
              "encoding": {
                "x": {"field": "fx", "type": "quantitative",
                      "axis": {"orient": "top", "values": [0,20,40,60,80,100,120], "labels": false, "title": null, "domain": false, "grid": false}},
                "y": {"field": "fy", "type": "quantitative",
                      "axis": {"orient": "right", "values": [0,0.2,0.4,0.6,0.8,1,1.2,1.4,1.6], "labels": false, "title": null, "domain": false, "grid": false}}
              }
            }
          ]
        }
      ]
    }
  ]
}
